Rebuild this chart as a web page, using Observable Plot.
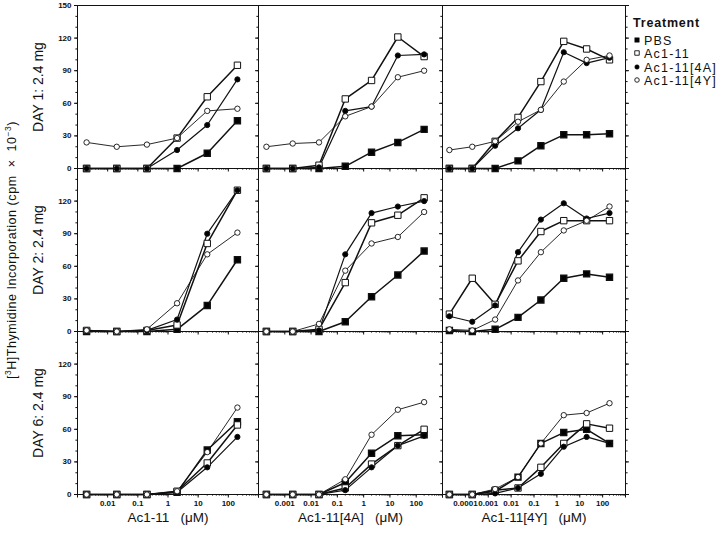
<!DOCTYPE html>
<html><head><meta charset="utf-8">
<script src="https://cdn.jsdelivr.net/npm/d3@7"></script>
<script src="https://cdn.jsdelivr.net/npm/@observablehq/plot@0.6"></script>
<style>
body{margin:0;background:#fff;}
#wrap{position:relative;width:720px;height:533px;font-family:"Liberation Sans",Arial,sans-serif;color:#111;overflow:hidden;}
#ylab{position:absolute;left:12px;top:250px;transform:translate(-50%,-50%) rotate(-90deg);white-space:nowrap;font-size:12.5px;letter-spacing:0.55px;}
#ylab sup{font-size:8.5px;vertical-align:5px;line-height:0;}
#legend{position:absolute;left:633px;top:17px;font-size:12.5px;letter-spacing:1.2px;line-height:13.6px;white-space:nowrap;}
#legend .ttl{margin-bottom:4px;font-weight:600;letter-spacing:0.8px;}
#legend svg{vertical-align:1px;margin-right:3px;}
</style></head><body><div id="wrap"></div>
<script>
// ---------- data ----------
const treatments = ["PBS", "Ac1-11", "Ac1-11[4A]", "Ac1-11[4Y]"];
const days = ["DAY 1: 2.4 mg", "DAY 2: 2.4 mg", "DAY 6: 2.4 mg"];
const compounds = ["Ac1-11", "Ac1-11[4A]", "Ac1-11[4Y]"];

const doses1 = [0.002, 0.02, 0.2, 2, 20, 200];
const doses2 = [0.0002, 0.002, 0.02, 0.2, 2, 20, 200];
const doses3 = [0.00002, 0.0002, 0.002, 0.02, 0.2, 2, 20, 200];

const xDomain1 = [0.001, 1000];
const xDomain2 = [0.0001, 1000];
const xDomain3 = [0.00001, 1000];

const xTicks1 = [0.01, 0.1, 1, 10, 100];
const xTicks2 = [0.001, 0.01, 0.1, 1, 10, 100];
const xTicks3 = [0.0001, 0.001, 0.01, 0.1, 1, 10, 100];

const yTicks = [0, 30, 60, 90, 120, 150];

// series order: PBS, Ac1-11, Ac1-11[4A], Ac1-11[4Y]
const day1_ac111 = [[0, 0, 0, 0, 14, 44], [0, 0, 0, 28, 66, 95], [0, 0, 0, 17, 40, 82], [24, 20, 22, 28, 53, 55]];
const day2_ac111 = [[0, 0, 0, 2, 24, 66], [1, 0, 1, 6, 81, 130], [1, 0, 1, 11, 90, 130], [1, 0, 2, 26, 71, 91]];
const day6_ac111 = [[0, 0, 0, 2, 41, 67], [0, 0, 0, 3, 29, 64], [0, 0, 0, 2, 25, 53], [0, 0, 0, 3, 39, 80]];

const day1_4a = [[0, 0, 0, 2, 15, 24, 36], [0, 0, 3, 64, 81, 121, 103], [0, 0, 1, 53, 57, 104, 105], [20, 23, 24, 48, 57, 84, 90]];
const day2_4a = [[0, 0, 0, 9, 32, 52, 74], [0, 0, 2, 45, 100, 107, 123], [0, 0, 1, 71, 109, 115, 120], [0, 0, 7, 56, 81, 87, 110]];
const day6_4a = [[0, 0, 0, 11, 38, 54, 55], [0, 0, 0, 6, 28, 45, 60], [0, 0, 0, 4, 25, 45, 54], [0, 0, 0, 14, 55, 78, 85]];

const day1_4y = [[0, 0, 0, 7, 21, 31, 31, 32], [0, 0, 25, 47, 80, 117, 110, 100], [0, 0, 21, 37, 54, 107, 97, 102], [17, 20, 25, 43, 54, 80, 100, 104]];
const day2_4y = [[1, 0, 2, 13, 29, 49, 53, 50], [16, 49, 25, 65, 92, 102, 102, 102], [14, 9, 24, 73, 103, 118, 104, 109], [2, 1, 11, 47, 73, 93, 102, 115]];
const day6_4y = [[0, 0, 3, 16, 47, 57, 60, 47], [0, 0, 4, 6, 25, 47, 65, 61], [0, 0, 1, 6, 19, 44, 53, 47], [0, 0, 5, 16, 47, 73, 75, 84]];

// ---------- styles ----------
const seriesStyle = [
  {symbol: "square", fill: "#000", r: 3.4, sw: 1.4, lw: 1.5},
  {symbol: "square", fill: "#fff", r: 3.6, sw: 1.0, lw: 1.5},
  {symbol: "circle", fill: "#000", r: 2.6, sw: 1.0, lw: 1.2},
  {symbol: "circle", fill: "#fff", r: 2.7, sw: 0.9, lw: 0.9}
];
const ink = "#111";

function toRows(doses, panels) {
  const out = [];
  panels.forEach((series, di) => series.forEach((vals, ti) => vals.forEach((v, k) =>
    out.push({day: days[di], treatment: treatments[ti], dose: doses[k], value: v}))));
  return out;
}

function minorTicks(domain) {
  const t = [];
  for (let e = Math.round(Math.log10(domain[0])); e < Math.round(Math.log10(domain[1])); e++)
    for (let m = 1; m < 10; m++) t.push(+(m * Math.pow(10, e)).toPrecision(6));
  t.push(domain[1]);
  return t;
}
function decadeTicks(domain) {
  const t = [];
  for (let e = Math.round(Math.log10(domain[0])); e <= Math.round(Math.log10(domain[1])); e++) t.push(+Math.pow(10, e).toPrecision(6));
  return t;
}

// tick marks only (no labels): fill "none" suppresses the axis text and label
const tickOnly = {fill: "none", label: null, stroke: ink};

function column({data, domain, ticks, label, width, marginLeft, marginRight, first, last}) {
  const marks = [
    Plot.frame({stroke: ink, strokeWidth: 1}),
    Plot.axisX({anchor: "bottom", facetAnchor: null, ticks: minorTicks(domain), tickSize: 1.6, ...tickOnly}),
    Plot.axisX({anchor: "bottom", facetAnchor: null, ticks: decadeTicks(domain), tickSize: 3.5, ...tickOnly}),
    Plot.axisX({anchor: "bottom", ticks, tickSize: 0, tickPadding: 6, tickFormat: d => String(d),
      fontSize: 8, fontWeight: "bold", fill: ink, label: null}),
    Plot.axisY({anchor: "left", ticks: d3.range(0, 151, 10), tickSize: 1.6, ...tickOnly}),
    Plot.axisY({anchor: "left", ticks: yTicks, tickSize: 3, ...tickOnly}),
    Plot.text([days[2]], {fy: d => d, text: () => label, frameAnchor: "bottom", dy: 27,
      fontSize: 13.5, letterSpacing: 0.8, fill: ink})
  ];
  if (last) {
    marks.push(Plot.axisY({anchor: "right", ticks: d3.range(0, 151, 10), tickSize: 1.6, ...tickOnly}));
    marks.push(Plot.axisY({anchor: "right", ticks: yTicks, tickSize: 3, ...tickOnly}));
  }
  if (first) {
    const yLabelRows = [];
    days.forEach((d, i) => yTicks.forEach(v => { if (i === 0 || v < 150) yLabelRows.push({day: d, v}); }));
    marks.push(Plot.text(yLabelRows, {fy: "day", y: "v", text: d => String(d.v), frameAnchor: "left",
      textAnchor: "end", dx: -6, fontSize: 8, fontWeight: "bold", fill: ink}));
    marks.push(Plot.text(days, {fy: d => d, text: d => d, frameAnchor: "left", textAnchor: "middle",
      rotate: -90, dx: -39, fontSize: 14, letterSpacing: 0.9, fill: ink}));
  }
  treatments.forEach((t, i) => {
    const s = seriesStyle[i];
    marks.push(Plot.line(data.filter(d => d.treatment === t), {x: "dose", y: "value", fy: "day",
      stroke: ink, strokeWidth: s.lw}));
  });
  treatments.forEach((t, i) => {
    const s = seriesStyle[i];
    marks.push(Plot.dot(data.filter(d => d.treatment === t), {x: "dose", y: "value", fy: "day",
      symbol: s.symbol, r: s.r, fill: s.fill, stroke: ink, strokeWidth: s.sw}));
  });
  return Plot.plot({
    width, height: 533, marginTop: 5, marginBottom: 39, marginLeft, marginRight,
    style: {background: "transparent", overflow: "visible", fontFamily: "'Liberation Sans', Arial, sans-serif"},
    x: {type: "log", domain},
    y: {domain: [0, 150]},
    fy: {domain: days, padding: 0, axis: null},
    marks
  });
}

const wrap = document.getElementById("wrap");
const cols = [
  {data: toRows(doses1, [day1_ac111, day2_ac111, day6_ac111]), domain: xDomain1, ticks: xTicks1,
   label: compounds[0] + "\u00a0\u00a0\u00a0(\u03bcM)", width: 259, marginLeft: 77, marginRight: 1, left: 0, first: true},
  {data: toRows(doses2, [day1_4a, day2_4a, day6_4a]), domain: xDomain2, ticks: xTicks2,
   label: compounds[1] + "\u00a0\u00a0\u00a0(\u03bcM)", width: 186, marginLeft: 1, marginRight: 1, left: 257},
  {data: toRows(doses3, [day1_4y, day2_4y, day6_4y]), domain: xDomain3, ticks: xTicks3,
   label: compounds[2] + "\u00a0\u00a0\u00a0(\u03bcM)", width: 185, marginLeft: 1, marginRight: 1, left: 441, last: true}
];
cols.forEach(c => {
  const svg = column(c);
  svg.style.position = "absolute";
  svg.style.left = c.left + "px";
  svg.style.top = "0px";
  svg.style.maxWidth = "none";
  wrap.appendChild(svg);
});

// overall y label
const ylab = document.createElement("div");
ylab.id = "ylab";
ylab.innerHTML = "[<sup>3</sup>H]Thymidine Incorporation (cpm &nbsp;\u00d7&nbsp; 10<sup>\u22123</sup>)";
wrap.appendChild(ylab);

// legend
const legend = document.createElement("div");
legend.id = "legend";
const ttl = document.createElement("div");
ttl.className = "ttl";
ttl.textContent = "Treatment";
legend.appendChild(ttl);
treatments.forEach((t, i) => {
  const s = seriesStyle[i];
  const row = document.createElement("div");
  const sym = s.symbol === "square" ? d3.symbolSquare : d3.symbolCircle;
  const size = s.symbol === "square" ? 20 : 16;
  const path = d3.symbol(sym, size)();
  row.innerHTML = `<svg width="8" height="8" viewBox="-4 -4 8 8"><path d="${path}" fill="${s.fill}" stroke="${ink}" stroke-width="${s.fill === "#fff" ? 0.9 : 0.5}"/></svg>`;
  row.appendChild(document.createTextNode(t));
  legend.appendChild(row);
});
wrap.appendChild(legend);
</script></body></html>
